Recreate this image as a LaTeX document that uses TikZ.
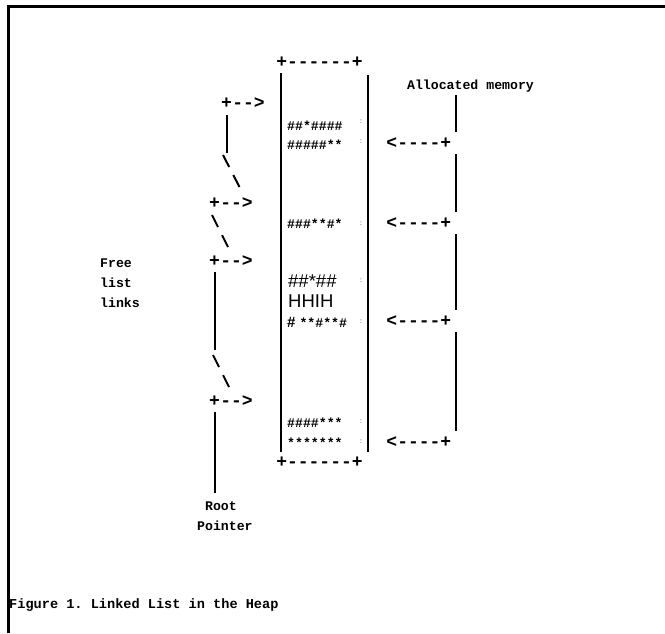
\documentclass[tikz,border=0pt]{standalone}
\usepackage{fontspec}
\setmonofont{Liberation Mono}
\setsansfont{Liberation Sans}
\usetikzlibrary{positioning}
\tikzset{
  ascii/.style={
    font=\fontsize{18}{18}\selectfont\ttfamily\bfseries,
    inner sep=0pt,
    text height=11.6pt,
    text depth=0pt,
  },
  lbl/.style={
    font=\fontsize{13.2}{20}\selectfont\ttfamily\bfseries,
    inner sep=0pt,
    align=left,
  },
  cell/.style={
    font=\fontsize{13.2}{13.2}\selectfont\ttfamily\bfseries,
    inner sep=0pt,
    anchor=west,
    text height=8pt,
    text depth=0pt,
  },
  bigcell/.style={
    font=\fontsize{18.5}{18.5}\selectfont\sffamily,
    inner sep=0pt,
    anchor=base west,
  },
  colon/.style={
    font=\fontsize{7}{7}\selectfont\ttfamily,
    text=gray,
    inner sep=0pt,
  },
  link/.style={line width=2pt},
  slash/.style={line width=2pt, dash pattern=on 13.5pt off 9pt},
  wall/.style={line width=2pt},
  pageedge/.style={line width=3pt},
}

\begin{document}
\begin{tikzpicture}[x=1pt, y=-1pt]
  \useasboundingbox (0,0) rectangle (665,633);
  \draw[pageedge] (8.3,633) -- (8.3,6.5) -- (665,6.5);

  \node[ascii] (htop) at (319.5,62) {+------+};
  \node[ascii] (hbot) at (319.5,462) {+------+};
  \draw[wall] (281,73) -- (281,452);
  \draw[wall] (368,75) -- (368,452);

  \node[cell] (c1) at (287,126) {\#\#*\#\#\#\#};
  \node[cell] (c2) at (287,145) {\#\#\#\#\#**};
  \node[cell] (c3) at (287,224) {\#\#\#**\#*};
  \node[bigcell] (c4) at (288,287.3) {\#\#*\#\#};
  \node[bigcell] (c5) at (288,307.6) {HHIH};
  \node[cell] (c6) at (287,323) {{\sffamily\bfseries\fontsize{15}{15}\selectfont\#}\hspace{4pt}**\#**\#};
  \node[cell] (c7) at (287,423) {\#\#\#\#***};
  \node[cell] (c8) at (287,443) {*******};

  \foreach \y [count=\i] in {122,142,224,281,322,422,442}
    \node[colon] (m\i) at (361,\y) {:};

  \node[ascii] (f1) at (226.5,103) {+};
  \node[ascii, right=0pt of f1] (f1a) {-->};
  \node[ascii] (f2) at (214.5,203) {+};
  \node[ascii, right=0pt of f2] (f2a) {-->};
  \node[ascii] (f3) at (214.5,261) {+};
  \node[ascii, right=0pt of f3] (f3a) {-->};
  \node[ascii] (f4) at (214.5,401) {+};
  \node[ascii, right=0pt of f4] (f4a) {-->};

  \node[lbl, anchor=west] (free) at (100,283) {Free\\list\\links};
  \node[lbl, anchor=north west] (root) at (197,502) {\hphantom{P}Root\\Pointer};

  \draw[link, shorten <=12pt] (f1.center) -- ++(0,50);
  \draw[slash] ([shift={(-3.5,52)}]f1.center) -- ([shift={(25.5,-15)}]f2.center);
  \draw[slash] ([shift={(-2.5,12)}]f2.center) -- ([shift={(13.5,-14)}]f3.center);
  \draw[link, shorten <=11pt] (f3.center) -- ++(0,89);
  \draw[slash] ([shift={(-1.5,94)}]f3.center) -- ([shift={(14.5,-14)}]f4.center);
  \draw[link, shorten <=11pt, shorten >=9pt] (f4.center) -- (f4.center |- root.north);

  \node[lbl, anchor=base] (alloc) at (470.5,89) {Allocated memory};
  \coordinate (rail) at (456,0);
  \node[ascii, anchor=east] (r1) at (451.5,143) {<----+};
  \node[ascii, anchor=east] (r2) at (451.5,223) {<----+};
  \node[ascii, anchor=east] (r3) at (451.5,321) {<----+};
  \node[ascii, anchor=east] (r4) at (451.5,442) {<----+};
  \draw[link, shorten <=9pt, shorten >=11pt] (alloc -| rail) -- (r1 -| rail);
  \foreach \a/\b in {r1/r2, r2/r3, r3/r4}
    \draw[link, shorten <=11pt, shorten >=11pt] (\a -| rail) -- (\b -| rail);

  \node[lbl, anchor=west, font=\fontsize{13.6}{20}\selectfont\ttfamily\bfseries] (caption) at (9,605) {Figure 1. Linked List in the Heap};
\end{tikzpicture}
\end{document}
